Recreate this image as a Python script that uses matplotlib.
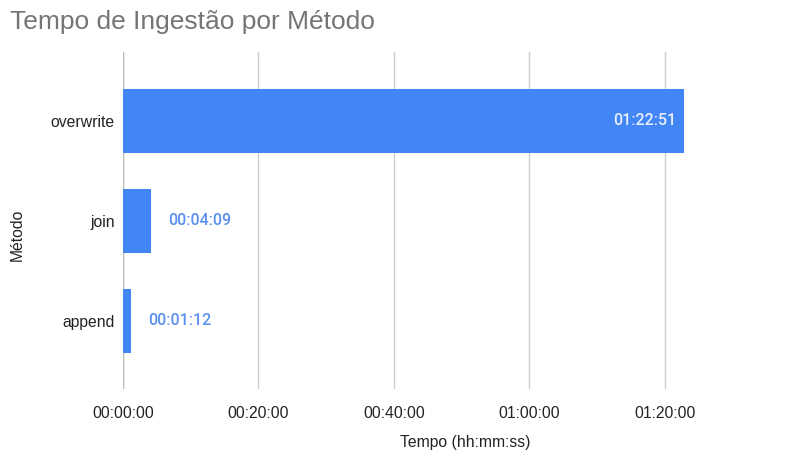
import matplotlib

matplotlib.use("Agg")
import matplotlib.pyplot as plt  # noqa: E402
from matplotlib.ticker import FuncFormatter  # noqa: E402

# Dados (tempo em segundos)
metodos = ["overwrite", "join", "append"]
tempos_seg = [4971, 249, 72]          # 01:22:51, 00:04:09, 00:01:12
ticks_seg = [0, 1200, 2400, 3600, 4800]

AZUL = "#4285f4"
plt.rcParams["font.family"] = ["Liberation Sans", "DejaVu Sans"]


def hms(seg, _pos=None):
    seg = int(round(seg))
    return f"{seg // 3600:02d}:{seg % 3600 // 60:02d}:{seg % 60:02d}"


fig = plt.figure(figsize=(7.89, 4.54), dpi=100)
ax = fig.add_axes([0.1559, 0.1432, 0.8669, 0.7423])

y = list(range(len(metodos)))
ax.barh(y, tempos_seg, height=0.64, color=AZUL, zorder=3)

ax.set_xlim(0, 6058)
ax.set_ylim(2.68, -0.69)
ax.set_xticks(ticks_seg)
ax.xaxis.set_major_formatter(FuncFormatter(hms))
ax.set_yticks(y)
ax.set_yticklabels(metodos)
ax.grid(axis="x", color="#cccccc", linewidth=1, zorder=0)
ax.tick_params(axis="both", length=0, labelsize=11.3, colors="#222222")
ax.tick_params(axis="x", pad=12)
ax.tick_params(axis="y", pad=6)
for s in ax.spines.values():
    s.set_visible(False)
ax.axvline(0, color="#bbbbbb", linewidth=1, zorder=2)

# rótulos de valor
limite = ax.get_xlim()[1]
for yi, v in zip(y, tempos_seg):
    if v > limite * 0.5:
        ax.annotate(hms(v), (v, yi), xytext=(-6, 0), textcoords="offset points",
                    ha="right", va="center", color="#e8efff", fontsize=11.5,
                    family=["Roboto", "DejaVu Sans"], fontweight=500, zorder=4)
    else:
        ax.annotate(hms(v), (v, yi), xytext=(12, 0), textcoords="offset points",
                    ha="left", va="center", color="#5b90f0", fontsize=11.5,
                    family=["Roboto", "DejaVu Sans"], fontweight=500, zorder=4)

ax.set_xlabel("Tempo (hh:mm:ss)", fontsize=11.3, color="#222222", va="center")
ax.xaxis.set_label_coords(0.5, -0.16)
ax.set_ylabel("Método", fontsize=11.3, color="#222222", va="center")
ax.yaxis.set_label_coords(-0.155, 0.457)

fig.text(0.013, 0.952, "Tempo de Ingestão por Método", fontsize=19,
         color="#757575", ha="left", va="center")

fig.savefig("out.png", dpi=100)
